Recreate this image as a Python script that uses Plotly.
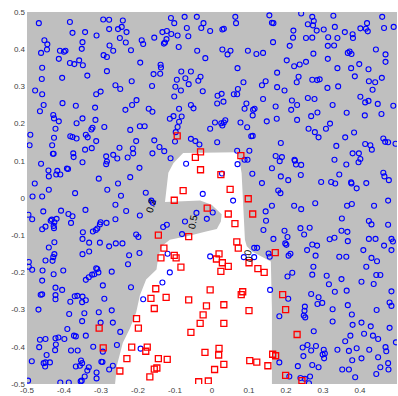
import plotly.graph_objects as go

# ---- class A (blue circles) ----
blue_pts = [
(-0.468,0.470),(-0.384,0.473),(-0.377,0.444),(-0.343,0.446),(-0.312,0.437),(-0.294,0.480),(-0.278,0.479),(-0.278,0.454),(-0.254,0.454),(-0.244,0.460),(-0.241,0.477),(-0.231,0.446),(-0.249,0.430),(-0.156,0.431),(-0.134,0.446),(-0.122,0.449),(-0.110,0.441),(-0.111,0.484),(-0.102,0.470),(-0.074,0.487),(-0.068,0.457),(-0.093,0.437),(-0.064,0.435),(-0.041,0.487),
(-0.453,0.424),(-0.445,0.413),(-0.446,0.399),(-0.462,0.390),(-0.411,0.396),(-0.400,0.393),(-0.396,0.396),(-0.350,0.419),(-0.352,0.401),(-0.233,0.418),(-0.277,0.410),(-0.267,0.396),(-0.219,0.397),(-0.190,0.424),(-0.186,0.414),(-0.123,0.427),(-0.127,0.418),(-0.130,0.415),(-0.090,0.406),(-0.040,0.396),(-0.293,0.384),(-0.284,0.379),
(-0.414,0.374),(-0.384,0.363),(-0.372,0.360),(-0.359,0.370),(-0.349,0.357),(-0.459,0.350),(-0.460,0.320),(-0.405,0.323),(-0.337,0.329),(-0.284,0.341),(-0.217,0.314),(-0.194,0.364),(-0.139,0.358),(-0.138,0.351),(-0.158,0.333),(-0.140,0.334),(-0.083,0.340),(-0.057,0.340),(-0.095,0.318),(-0.072,0.322),(-0.037,0.315),(-0.162,0.301),
(-0.478,0.289),(-0.459,0.279),(-0.455,0.250),(-0.465,0.233),(-0.404,0.255),(-0.368,0.248),(-0.313,0.279),(-0.301,0.286),(-0.261,0.303),(-0.248,0.293),(-0.316,0.243),(-0.234,0.237),(-0.216,0.250),(-0.204,0.263),(-0.171,0.240),(-0.161,0.232),(-0.099,0.299),(-0.084,0.289),(-0.063,0.306),(-0.102,0.273),(-0.057,0.250),(-0.050,0.241),(-0.089,0.240),
(-0.429,0.223),(-0.427,0.214),(-0.414,0.206),(-0.423,0.186),(-0.350,0.214),(-0.366,0.201),(-0.315,0.210),(-0.326,0.184),(-0.323,0.189),(-0.341,0.170),(-0.336,0.163),(-0.377,0.164),(-0.383,0.166),(-0.366,0.160),(-0.291,0.191),(-0.427,0.162),(-0.491,0.170),(-0.221,0.183),(-0.195,0.193),(-0.182,0.193),(-0.104,0.220),(-0.114,0.213),(-0.082,0.219),(-0.089,0.205),(-0.093,0.191),(-0.098,0.177),(-0.057,0.159),
(-0.493,0.142),(-0.432,0.142),(-0.430,0.119),(-0.428,0.119),(-0.375,0.120),(-0.374,0.110),(-0.343,0.130),(-0.325,0.134),(-0.313,0.153),(-0.350,0.096),(-0.286,0.112),(-0.284,0.098),(-0.286,0.091),(-0.462,0.092),
(-0.442,0.074),(-0.418,0.073),(-0.421,0.063),(-0.410,0.063),(-0.392,0.079),(-0.389,0.078),(-0.441,0.058),(-0.479,0.039),(-0.441,0.022),(-0.485,0.004),(-0.459,0.004),(-0.370,0.013),(-0.306,0.052),(-0.283,0.022),
(-0.250,0.135),(-0.228,0.109),(-0.205,0.153),(-0.112,0.107),(-0.100,0.152),
(-0.023,0.470),(-0.029,0.457),(-0.005,0.449),(0.028,0.453),(0.032,0.455),(0.063,0.487),(0.065,0.470),(0.155,0.491),(0.162,0.471),(0.166,0.470),(0.241,0.496),(0.271,0.487),(0.275,0.476),(0.273,0.464),(0.259,0.467),(0.283,0.450),(0.328,0.490),(0.302,0.453),(0.332,0.460),(0.314,0.432),(0.359,0.446),(0.380,0.440),(0.381,0.430),(0.401,0.456),(0.419,0.470),(0.416,0.455),(0.421,0.448),(0.460,0.487),(0.465,0.457),(0.491,0.460),(0.220,0.450),(0.254,0.430),(0.271,0.431),(0.219,0.431),(0.165,0.419),(0.210,0.409),(0.313,0.409),(0.330,0.410),(0.339,0.430),
(0.028,0.399),(0.042,0.386),(0.050,0.396),(0.097,0.396),(0.120,0.387),(0.138,0.390),(-0.018,0.376),(0.069,0.349),(0.202,0.370),(0.222,0.354),(0.237,0.359),(0.254,0.366),(0.274,0.388),(0.313,0.374),(0.367,0.390),(0.372,0.394),(0.377,0.387),(0.339,0.349),(0.376,0.349),(0.398,0.360),(0.423,0.346),(0.443,0.399),(0.469,0.386),(0.469,0.366),
(-0.031,0.326),(-0.025,0.287),(0.085,0.311),(0.135,0.303),(0.145,0.314),(0.176,0.337),(0.176,0.298),(0.196,0.289),(0.229,0.311),(0.234,0.326),(0.271,0.318),(0.284,0.317),(0.291,0.319),(0.312,0.296),(0.341,0.300),(0.386,0.327),(0.424,0.314),(0.441,0.311),(0.434,0.291),(0.459,0.323),
(0.015,0.275),(0.026,0.280),(0.014,0.254),(0.031,0.259),(0.059,0.279),(0.068,0.279),(0.070,0.293),(0.093,0.254),(0.088,0.240),(0.111,0.237),(0.115,0.240),(0.110,0.222),(0.138,0.266),(0.172,0.246),(0.216,0.262),(0.230,0.250),(0.214,0.237),(0.259,0.269),(0.277,0.266),(0.285,0.230),(0.268,0.220),(0.326,0.250),(0.364,0.229),(0.401,0.272),(0.414,0.257),(0.423,0.261),(0.413,0.222),(0.448,0.253),(0.458,0.226),(0.490,0.248),
(0.008,0.203),(0.028,0.195),(0.032,0.203),(0.025,0.201),(0.036,0.209),(-0.005,0.186),(0.077,0.203),(0.095,0.190),(0.110,0.167),(0.106,0.166),(0.148,0.206),(0.175,0.213),(0.230,0.210),(0.261,0.186),(0.278,0.177),(0.288,0.163),(0.308,0.186),(0.319,0.200),(0.360,0.163),(0.384,0.176),(0.186,0.148),(0.336,0.140),(0.414,0.145),(0.428,0.142),(0.432,0.130),(0.463,0.160),(0.468,0.151),(0.476,0.150),(0.496,0.146),
(0.172,0.113),(0.189,0.110),(0.183,0.099),(0.223,0.103),(0.224,0.100),(0.227,0.090),(0.241,0.089),(0.162,0.080),(0.135,0.040),(0.186,0.058),(0.206,0.048),(0.240,0.062),(0.295,0.043),(0.322,0.043),(0.333,0.039),(0.344,0.063),(0.331,0.103),(0.363,0.090),(0.380,0.120),(0.397,0.120),(0.401,0.105),(0.396,0.096),(0.376,0.042),(0.377,0.039),(0.391,0.026),(0.417,0.040),(0.463,0.068),(0.466,0.058),(0.478,0.048),(0.179,0.020),(0.185,0.013),
(-0.156,0.155),(-0.142,0.137),(-0.129,0.126),(-0.161,0.120),(-0.214,0.133),(-0.213,0.120),(-0.267,0.116),(-0.256,0.106),(-0.196,0.081),(-0.221,0.056),(-0.254,0.039),(-0.246,0.006),(-0.261,-0.018),(-0.232,-0.035),(-0.261,-0.057),(-0.179,0.014),(-0.164,-0.007),(-0.160,-0.013),(-0.195,-0.047),(-0.132,-0.078),(-0.122,-0.072),(-0.205,-0.098),(-0.199,-0.105),(-0.260,-0.122),(-0.242,-0.122),(-0.073,-0.063),(-0.081,-0.097),(-0.042,-0.040),(-0.014,-0.056),(0.002,-0.039),(-0.070,0.092),(-0.025,0.011),(0.027,0.066),(0.057,-0.007),(-0.045,0.153),(-0.034,0.144),(0.014,0.150),(0.068,0.127),(0.101,0.127),(0.069,0.091),(0.088,0.103),(0.096,0.103),(0.109,0.065),(0.114,-0.134),(0.122,-0.134),
(-0.496,-0.045),(-0.486,-0.057),(-0.456,-0.036),(-0.408,-0.034),(-0.388,-0.043),(-0.377,-0.049),(-0.381,-0.067),(-0.342,-0.032),(-0.436,-0.061),(-0.426,-0.065),(-0.420,-0.056),(-0.433,-0.058),(-0.459,-0.084),(-0.450,-0.077),(-0.428,-0.075),(-0.427,-0.081),(-0.349,-0.092),(-0.322,-0.090),(-0.314,-0.086),(-0.310,-0.082),(-0.301,-0.065),(-0.303,-0.071),(-0.285,-0.067),(-0.350,-0.110),(-0.332,-0.120),(-0.303,-0.120),(-0.278,-0.130),(-0.441,-0.133),(-0.426,-0.119),
(-0.426,-0.151),(-0.429,-0.159),(-0.431,-0.169),(-0.450,-0.168),(-0.495,-0.172),(-0.495,-0.185),(-0.486,-0.193),(-0.458,-0.195),(-0.402,-0.195),(-0.428,-0.205),(-0.350,-0.151),(-0.332,-0.144),(-0.313,-0.189),(-0.310,-0.191),(-0.307,-0.200),(-0.318,-0.205),(-0.324,-0.206),(-0.333,-0.213),(-0.341,-0.220),(-0.459,-0.222),(-0.423,-0.241),(-0.423,-0.261),(-0.423,-0.272),(-0.405,-0.247),(-0.463,-0.260),(-0.459,-0.259),(-0.383,-0.279),(-0.371,-0.264),(-0.364,-0.263),(-0.351,-0.280),(-0.350,-0.265),(-0.341,-0.275),
(-0.469,-0.300),(-0.386,-0.312),(-0.345,-0.310),(-0.306,-0.307),(-0.351,-0.331),(-0.391,-0.352),(-0.373,-0.370),(-0.465,-0.381),(-0.450,-0.379),(-0.423,-0.377),(-0.415,-0.375),(-0.399,-0.379),(-0.368,-0.372),(-0.341,-0.370),(-0.467,-0.401),(-0.422,-0.394),(-0.424,-0.409),(-0.381,-0.410),(-0.363,-0.410),(-0.321,-0.400),(-0.447,-0.422),(-0.450,-0.442),(-0.438,-0.442),(-0.455,-0.444),(-0.451,-0.453),(-0.354,-0.437),(-0.351,-0.444),(-0.357,-0.451),(-0.368,-0.453),(-0.333,-0.455),(-0.337,-0.464),(-0.344,-0.480),(-0.312,-0.469),(-0.312,-0.485),(-0.352,-0.491),(-0.355,-0.493),(-0.497,-0.491),(-0.487,-0.439),(-0.410,-0.496),(-0.387,-0.496),(-0.301,-0.335),(-0.299,-0.440),
(-0.224,-0.154),(-0.196,-0.148),(-0.227,-0.178),(-0.271,-0.198),(-0.120,-0.150),(-0.114,-0.200),(-0.134,-0.227),(-0.186,-0.272),(-0.219,-0.240),(-0.295,-0.235),(-0.291,-0.271),(-0.271,-0.302),(-0.268,-0.335),(-0.248,-0.360),(-0.257,-0.395),(-0.295,-0.413),(-0.296,-0.441),(-0.268,-0.451),(-0.278,-0.461),(-0.193,-0.405),(-0.005,-0.157),(0.086,-0.159),(0.114,-0.159),(0.153,-0.149),(0.156,-0.158),(0.212,-0.150),(0.207,-0.155),(0.217,-0.201),(0.204,-0.211),(0.157,-0.247),(0.206,-0.271),(0.182,-0.318),(0.232,-0.452),(0.182,-0.442),(0.209,-0.480),
(0.162,-0.021),(0.222,-0.021),(0.241,-0.030),(0.279,-0.014),(0.365,-0.021),(0.378,-0.016),(0.438,-0.021),(0.476,-0.007),(0.145,-0.036),(0.146,-0.061),(0.139,-0.086),(0.166,-0.110),(0.196,-0.088),(0.204,-0.105),(0.198,-0.122),(0.201,-0.126),(0.239,-0.081),(0.264,-0.080),(0.249,-0.098),(0.271,-0.125),(0.284,-0.128),(0.257,-0.140),(0.280,-0.155),(0.318,-0.111),(0.331,-0.107),(0.350,-0.088),(0.366,-0.091),(0.367,-0.116),(0.351,-0.055),(0.424,-0.062),(0.431,-0.071),(0.476,-0.072),(0.424,-0.110),(0.442,-0.110),(0.485,-0.110),(0.489,-0.117),(0.465,-0.128),(0.409,-0.140),(0.431,-0.161),(0.446,-0.170),(0.485,-0.140),(0.344,-0.158),(0.363,-0.158),
(0.274,-0.185),(0.271,-0.206),(0.310,-0.209),(0.350,-0.218),(0.417,-0.185),(0.444,-0.207),(0.455,-0.207),(0.404,-0.225),(0.437,-0.231),(0.485,-0.251),(0.316,-0.232),(0.332,-0.252),(0.364,-0.249),(0.268,-0.258),(0.288,-0.267),(0.285,-0.285),(0.298,-0.282),(0.326,-0.299),(0.367,-0.288),(0.378,-0.313),(0.445,-0.301),(0.480,-0.281),(0.485,-0.290),(0.326,-0.332),(0.380,-0.341),(0.404,-0.335),(0.411,-0.365),(0.429,-0.345),(0.435,-0.370),(0.449,-0.379),(0.480,-0.349),(0.497,-0.388),(0.360,-0.385),(0.374,-0.370),(0.339,-0.408),(0.370,-0.411),(0.379,-0.436),(0.391,-0.404),(0.404,-0.431),(0.425,-0.408),(0.469,-0.401),(0.471,-0.412),(0.449,-0.428),(0.476,-0.444),(0.455,-0.455),(0.477,-0.461),(0.444,-0.473),(0.352,-0.461),(0.370,-0.461),(0.387,-0.482),
(0.250,-0.303),(0.248,-0.316),(0.252,-0.321),(0.251,-0.292),(0.275,-0.358),(0.258,-0.395),(0.281,-0.398),(0.268,-0.410),(0.245,-0.402),(0.247,-0.425),(0.302,-0.408),(0.305,-0.418),(0.299,-0.421),(0.303,-0.431),(0.271,-0.449),(0.288,-0.455),(0.239,-0.484),(0.251,-0.486),(0.265,-0.480),(0.262,-0.498),
]
blue_x = [p[0] for p in blue_pts]
blue_y = [p[1] for p in blue_pts]

# ---- class B (red squares) ----
red_pts = [
(-0.094,0.167),
(-0.031,0.124),(-0.045,0.109),(-0.031,0.076),(0.024,0.063),(-0.078,0.020),(-0.102,-0.006),(0.049,0.023),(0.098,-0.002),(-0.013,-0.027),(0.044,-0.043),(0.110,-0.043),(0.062,-0.069),(-0.145,-0.100),(-0.063,-0.104),(0.067,-0.118),(0.078,0.114),(-0.130,-0.135),(0.071,-0.135),
(-0.138,-0.161),(-0.102,-0.154),(-0.097,-0.161),(-0.084,-0.186),(0.019,-0.150),(0.012,-0.164),(0.028,-0.174),(0.044,-0.184),(0.024,-0.197),(0.100,-0.174),(0.124,-0.190),(0.141,-0.200),(0.171,-0.147),(0.191,-0.260),(0.199,-0.300),(0.230,-0.367),
(-0.152,-0.244),(-0.165,-0.270),(-0.124,-0.267),(-0.156,-0.297),(-0.063,-0.274),(-0.005,-0.247),(0.083,-0.252),(0.079,-0.260),(-0.015,-0.290),(0.032,-0.287),(0.100,-0.303),(-0.024,-0.314),(-0.204,-0.324),(-0.199,-0.350),(-0.032,-0.337),(0.032,-0.337),(-0.057,-0.361),
(-0.217,-0.401),(-0.175,-0.401),(-0.179,-0.412),(-0.294,-0.403),(-0.230,-0.432),(-0.145,-0.432),(-0.121,-0.434),(-0.019,-0.415),(0.019,-0.404),(0.018,-0.422),(0.032,-0.447),(0.007,-0.461),(0.102,-0.437),(0.121,-0.441),(0.151,-0.451),(0.164,-0.420),(0.172,-0.424),
(-0.249,-0.465),(-0.156,-0.460),(-0.149,-0.457),(-0.168,-0.481),(-0.036,-0.494),(-0.010,-0.492),(0.199,-0.477),(-0.305,-0.350),(0.243,-0.491),
]
red_x = [p[0] for p in red_pts]
red_y = [p[1] for p in red_pts]

# ---- decision region (white area) outline ----
region_x = [-0.078, 0.070, 0.080, 0.085, 0.089, 0.094, 0.108, 0.135, 0.159, 0.162, 0.162,
            -0.262, -0.257, -0.241, -0.222, -0.205, -0.195, -0.178, -0.150, -0.145, -0.136,
            -0.114, -0.059, -0.016, 0.013, 0.024, 0.026, -0.001, -0.032, -0.127, -0.124,
            -0.118, -0.104]
region_y = [0.121, 0.123, 0.067, -0.022, -0.112, -0.130, -0.144, -0.158, -0.171, -0.300, -0.500,
            -0.500, -0.450, -0.389, -0.351, -0.308, -0.262, -0.219, -0.192, -0.157, -0.130,
            -0.112, -0.101, -0.090, -0.083, -0.063, -0.044, -0.018, -0.007, -0.011, 0.023,
            0.068, 0.094]

# contour labels
label_text = ["0.2", "0.5", "0", "0"]
label_x = [-0.166, -0.051, 0.097, 0.101]
label_y = [-0.022, -0.064, -0.147, -0.163]
label_angle = [-75, -80, -80, -80]

ticks = [-0.5, -0.4, -0.3, -0.2, -0.1, 0, 0.1, 0.2, 0.3, 0.4, 0.5]
tick_text = ["-0.5", "-0.4", "-0.3", "-0.2", "-0.1", "0", "0.1", "0.2", "0.3", "0.4", "0.5"]

fig = go.Figure()
fig.add_trace(go.Scatter(x=region_x + [region_x[0]], y=region_y + [region_y[0]],
                         mode="lines", fill="toself", fillcolor="white",
                         line=dict(width=0, color="white"), hoverinfo="skip", showlegend=False))
fig.add_trace(go.Scatter(x=blue_x, y=blue_y, mode="markers", showlegend=False,
                         marker=dict(symbol="circle-open", size=5, color="#0000ff",
                                     line=dict(width=1.1, color="#0000ff"))))
fig.add_trace(go.Scatter(x=red_x, y=red_y, mode="markers", showlegend=False,
                         marker=dict(symbol="square-open", size=6, color="#ff0000",
                                     line=dict(width=1.3, color="#ff0000"))))

for t, lx, ly, a in zip(label_text, label_x, label_y, label_angle):
    fig.add_annotation(x=lx, y=ly, text=t, showarrow=False, textangle=a,
                       font=dict(family="Liberation Sans, Arial", size=10, color="black"))

fig.update_layout(
    width=398, height=396,
    margin=dict(l=27, r=1, t=12, b=12, autoexpand=False),
    paper_bgcolor="white", plot_bgcolor="#bfbfbf",
    font=dict(family="Liberation Sans, Arial", size=8, color="#404040"),
)
fig.update_xaxes(range=[-0.5, 0.5], tickvals=ticks, ticktext=tick_text, showgrid=False,
                 zeroline=False, showline=False, ticks="", ticklabelstandoff=0, automargin=False)
fig.update_yaxes(range=[-0.5, 0.5], tickvals=ticks, ticktext=tick_text, showgrid=False,
                 zeroline=False, showline=False, ticks="", ticklabelstandoff=1, automargin=False)

fig.write_html("out.html", config={"displayModeBar": False},
               post_script="document.body.style.margin='0px';document.body.style.overflow='hidden';")
